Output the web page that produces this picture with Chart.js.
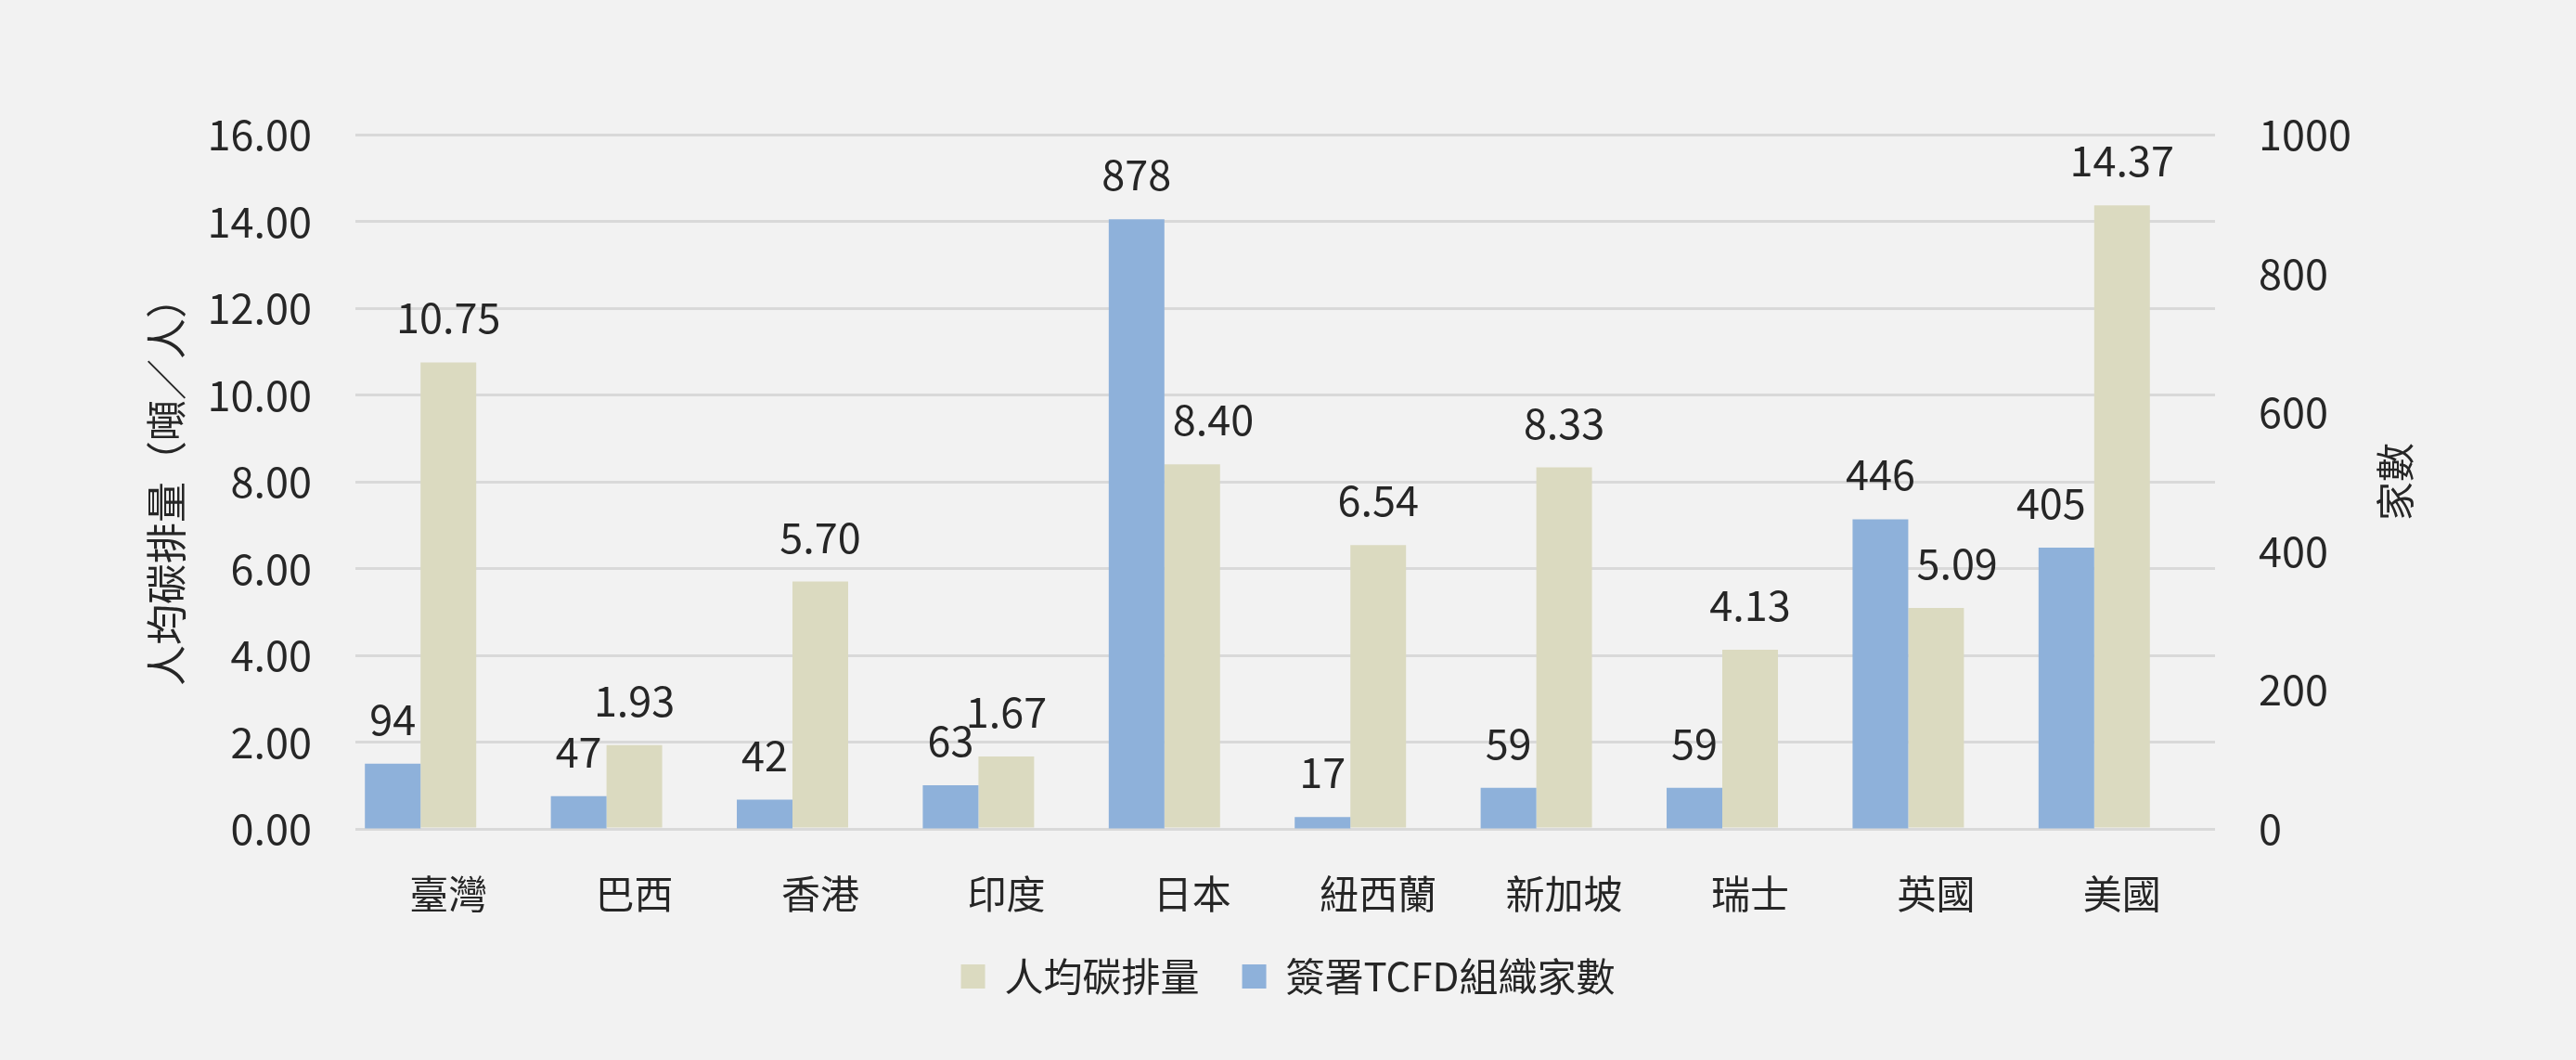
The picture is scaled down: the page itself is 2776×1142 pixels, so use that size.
<!DOCTYPE html>
<html>
<head>
<meta charset="utf-8">
<script src="https://cdn.jsdelivr.net/npm/chart.js@4.4.1/dist/chart.umd.min.js"></script>
<style>
  html, body { margin: 0; padding: 0; background: #f2f2f2; }
</style>
</head>
<body>
<canvas id="chart" width="2776" height="1142"></canvas>
<script>
var countries = ['臺灣', '巴西', '香港', '印度', '日本', '紐西蘭', '新加坡', '瑞士', '英國', '美國'];
var tcfdCount = [94, 47, 42, 63, 878, 17, 59, 59, 446, 405];
var carbonPerCapita = [10.75, 1.93, 5.70, 1.67, 8.40, 6.54, 8.33, 4.13, 5.09, 14.37];
var leftAxisRange = [0, 16, 2];
var rightAxisRange = [0, 1000, 200];

var FONT = '"Noto Sans CJK TC", "Noto Sans", sans-serif';
var TEXT = '#262626';

// value labels above the bars, nudged sideways when they would hit the neighbour bar
var valueLabels = {
  id: 'valueLabels',
  afterDatasetsDraw: function (chart) {
    var ctx = chart.ctx;
    ctx.save();
    ctx.font = '45px ' + FONT;
    ctx.fillStyle = TEXT;
    ctx.textAlign = 'left';
    ctx.textBaseline = 'alphabetic';
    var metas = [chart.getDatasetMeta(0), chart.getDatasetMeta(1)];
    metas.forEach(function (meta, m) {
      var other = metas[1 - m];
      meta.data.forEach(function (bar, i) {
        var v = chart.data.datasets[m].data[i];
        var txt = m === 0 ? String(v) : v.toFixed(2);
        var w = ctx.measureText(txt).width;
        var base = bar.y - 31;
        var left = bar.x - w / 2;
        var nb = other.data[i];
        var nl = nb.x - nb.width / 2, nr = nb.x + nb.width / 2;
        if (nb.y < base && left < nr && left + w > nl) {
          if (nb.x > bar.x) left = nl - 9 - w; else left = nr + 9;
        }
        ctx.fillText(txt, left, base);
      });
    });
    ctx.restore();
  }
};

// right axis title reads bottom-to-top like the left one
var rightTitle = {
  id: 'rightTitle',
  afterDraw: function (chart) {
    var ctx = chart.ctx;
    var area = chart.chartArea;
    ctx.save();
    ctx.translate(chart.scales.y2.right - 195, (area.top + area.bottom) / 2);
    ctx.rotate(-Math.PI / 2);
    ctx.font = '42px ' + FONT;
    ctx.fillStyle = TEXT;
    ctx.textAlign = 'center';
    ctx.textBaseline = 'middle';
    ctx.fillText('家數', 0, 0);
    ctx.restore();
  }
};

var chart = new Chart(document.getElementById('chart'), {
  type: 'bar',
  data: {
    labels: countries,
    datasets: [
      { label: '簽署TCFD組織家數', data: tcfdCount, yAxisID: 'y2', backgroundColor: '#8eb1da', borderWidth: 0 },
      { label: '人均碳排量', data: carbonPerCapita, yAxisID: 'y', backgroundColor: '#dbdac0', borderWidth: 0 },
      { label: '', data: [], yAxisID: 'y', backgroundColor: 'rgba(0,0,0,0)' }
    ]
  },
  options: {
    responsive: false,
    animation: false,
    devicePixelRatio: 1,
    categoryPercentage: 0.898,
    barPercentage: 1,
    layout: { padding: { top: 145, left: 0, right: 0, bottom: 59 } },
    plugins: {
      tooltip: { enabled: false },
      legend: {
        position: 'bottom',
        labels: {
          font: { size: 42, family: FONT },
          color: TEXT,
          boxWidth: 26,
          boxHeight: 26,
          padding: 46,
          filter: function (item) { return item.datasetIndex < 2; },
          sort: function (a, b) { return b.datasetIndex - a.datasetIndex; }
        }
      }
    },
    scales: {
      x: {
        grid: { display: false, drawTicks: false },
        border: { display: false },
        ticks: { font: { size: 42, family: FONT }, color: TEXT, padding: 45 },
        afterFit: function (s) { s.height = 92; }
      },
      y: {
        position: 'left',
        min: leftAxisRange[0], max: leftAxisRange[1],
        grid: { color: '#d9d9d9', lineWidth: 3, drawTicks: false },
        border: { display: false },
        ticks: {
          stepSize: leftAxisRange[2],
          font: { size: 45, family: FONT }, color: TEXT, padding: 47,
          callback: function (v) { return v.toFixed(2); }
        },
        title: {
          display: true, text: '人均碳排量（噸／人）',
          font: { size: 44, family: FONT }, color: TEXT,
          padding: { top: 153, bottom: 0 }
        },
        afterFit: function (s) { s.width = 383; }
      },
      y2: {
        position: 'right',
        min: rightAxisRange[0], max: rightAxisRange[1],
        grid: { drawOnChartArea: false, drawTicks: false },
        border: { display: false },
        ticks: {
          stepSize: rightAxisRange[2],
          font: { size: 45, family: FONT }, color: TEXT, padding: 47,
          callback: function (v) { return String(v); }
        },
        afterFit: function (s) { s.width = 389; }
      }
    }
  },
  plugins: [valueLabels, rightTitle]
});
</script>
</body>
</html>
